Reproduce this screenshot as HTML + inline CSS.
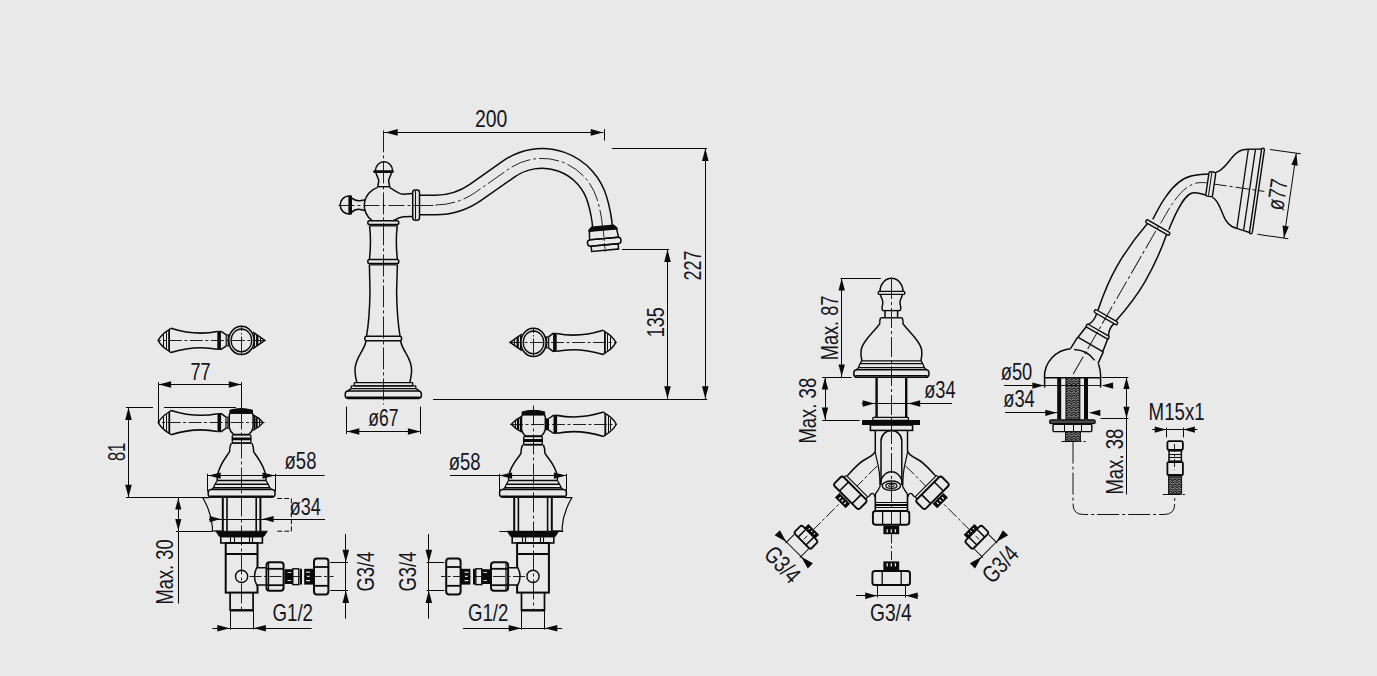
<!DOCTYPE html>
<html lang="en">
<head>
<meta charset="utf-8">
<title>Technical drawing - bath mixer dimensions</title>
<style>
html,body{margin:0;padding:0;background:#e9e9e9;}
body{width:1377px;height:676px;overflow:hidden;font-family:"Liberation Sans",sans-serif;}
svg{display:block;}
</style>
</head>
<body>
<svg width="1377" height="676" viewBox="0 0 1377 676" fill="none" stroke="#0a0a0a" stroke-linecap="butt" font-family="'Liberation Sans', sans-serif">
<defs><pattern id="hatch" width="4.4" height="2.4" patternUnits="userSpaceOnUse"><rect width="4.4" height="2.4" fill="#141414" stroke="none"/><path d="M0,0.3 L2.2,1.9 L4.4,0.3" stroke="#e2e2e2" stroke-width="0.75" fill="none"/></pattern></defs>
<g id="drawing">
<path d="M419.5,205 L435.3,205 A70,70 0 0 0 475.5,192.33 L509.1,168.8 A57.5,57.5 0 0 1 597.37,200.05 C599.85,208.7 601.9,217.8 602.5,226.8" fill="none" stroke="#0a0a0a" stroke-width="21.2"/>
<path d="M418,205 L435.3,205 A70,70 0 0 0 475.5,192.33 L509.1,168.8 A57.5,57.5 0 0 1 597.37,200.05 C599.85,208.7 601.9,217.8 602.6,228.5" fill="none" stroke="#e9e9e9" stroke-width="18.2"/>
<line x1="419.5" y1="205.5" x2="435.3" y2="205.5" stroke-width="0.9" stroke-dasharray="14 3 3 3"/>
<path d="M435.3,205 A70,70 0 0 0 475.5,192.33 L509.1,168.8 A57.5,57.5 0 0 1 597.37,200.05 C599.85,208.7 601.9,217.8 602.5,226.8" stroke-width="0.9" fill="none" stroke-dasharray="20 3 3 3"/>
<g transform="translate(602.7,227) rotate(-5.2)">
<path d="M-10.6,0 L-13.6,2.4 L-14.2,11.6 M10.6,0 L13.6,2.4 L14.8,11.6" stroke-width="1.5" fill="none"/>
<path d="M-11,-0.8 L11,-0.8 L14,2 L14,3.2 L-14,3.2 L-14,2 Z" stroke-width="1.2" fill="#0a0a0a"/>
<line x1="-14.4" y1="11.6" x2="15" y2="11.6" stroke-width="1.4"/>
<rect x="-16.6" y="11.6" width="33.6" height="6.4" rx="3" stroke-width="1.5" fill="none"/>
<rect x="-13.2" y="18" width="27" height="5.4" stroke-width="1.5" fill="none"/>
<line x1="0.3" y1="4" x2="0.3" y2="25" stroke-width="0.8" stroke-dasharray="6 2 2 2"/>
</g>
<path d="M375.4,171 A8.6,9.2 0 0 1 392.6,171" stroke-width="1.5" fill="none"/>
<rect x="373.2" y="170.2" width="20.6" height="2.8" rx="1.2" fill="#0a0a0a" stroke="none"/>
<path d="M376,173 C377,177 379.4,178.5 378.6,182 L377.6,187.4 M391.4,173 C390.4,177 388,178.5 388.8,182 L389.8,187.4" stroke-width="1.5" fill="none"/>
<line x1="377" y1="186.7" x2="390.2" y2="186.7" stroke-width="1.4"/>
<path d="M377.3,187.6 A18.1,18.5 0 0 0 372.4,220.8" stroke-width="1.5" fill="none"/>
<path d="M389.6,187.6 C394,189.5 397.5,193.6 403,194.2 L412.6,193.6" stroke-width="1.5" fill="none"/>
<path d="M412.6,216.6 L403.5,216.8 C399,217.2 396,219.3 393.4,220.8" stroke-width="1.5" fill="none"/>
<path d="M349,196 A8.8,9 0 0 0 349,214" stroke-width="1.5" fill="none"/>
<rect x="348.4" y="195.2" width="3.6" height="19.6" rx="1.2" fill="#0a0a0a" stroke="none"/>
<path d="M352,198 C354,200.4 357,200.9 360,200.7 L365.6,199.8 M352,212.2 C354,209.6 357,209.2 360,209.4 L365.6,210.4" stroke-width="1.5" fill="none"/>
<rect x="412.7" y="190" width="6.8" height="30.2" rx="2.4" stroke-width="1.5" fill="#e9e9e9"/>
<line x1="415.5" y1="191" x2="415.5" y2="219.2" stroke-width="1.1"/>
<line x1="338.5" y1="205.5" x2="419" y2="205.5" stroke-width="0.9" stroke-dasharray="16 3 3 3"/>
<rect x="367.8" y="220.8" width="31" height="3.8" rx="1.8" stroke-width="1.5" fill="none"/>
<line x1="369.4" y1="225.8" x2="397.4" y2="225.8" stroke-width="1.3"/>
<path d="M369.6,225.8 Q371.4,242 369.4,259.6 M397.2,225.8 Q395.4,242 397.4,259.6" stroke-width="1.5" fill="none"/>
<rect x="367.8" y="259.6" width="31" height="3.9" rx="1.8" stroke-width="1.5" fill="none"/>
<line x1="369.4" y1="264.8" x2="397.4" y2="264.8" stroke-width="1.2"/>
<path d="M369.4,264.8 L370,292 Q369.6,318 366.6,336 M397.4,264.8 L396.6,292 Q397,318 400,336" stroke-width="1.5" fill="none"/>
<rect x="364.8" y="336.2" width="36.8" height="4.6" rx="2" stroke-width="1.5" fill="none"/>
<path d="M366,341 C364,352 354.4,358 355,371 C355.2,376 356,379.5 356.9,382.7 M400.6,341 C402.6,352 412.2,358 411.6,371 C411.4,376 410.6,379.5 409.7,382.7" stroke-width="1.5" fill="none"/>
<rect x="354.2" y="382.7" width="58.6" height="3.1" rx="0.8" stroke-width="1.3" fill="none"/>
<rect x="351.2" y="385.8" width="64.6" height="2.9" rx="0.8" stroke-width="1.3" fill="none"/>
<path d="M351.4,388.7 Q349,389.4 347.6,391.2 M415.6,388.7 Q418,389.4 419.4,391.2" stroke-width="1.3" fill="none"/>
<rect x="345.2" y="391" width="76.2" height="7.4" rx="3.2" stroke-width="1.5" fill="none"/>
<line x1="347" y1="397.4" x2="419.6" y2="397.4" stroke-width="2"/>
<line x1="383.5" y1="130.4" x2="383.5" y2="404.5" stroke-width="0.9" stroke-dasharray="22 3 3 3"/>
<line x1="433" y1="399.5" x2="707.2" y2="399.5" stroke-width="1.1"/>
<line x1="383.4" y1="132.5" x2="603.5" y2="132.5" stroke-width="1"/>
<polygon points="385.2,132.4 397.7,129.1 397.7,135.7" fill="#0a0a0a" stroke="none"/>
<polygon points="603.2,132.4 590.7,135.7 590.7,129.1" fill="#0a0a0a" stroke="none"/>
<line x1="604.5" y1="129.2" x2="604.5" y2="140.6" stroke-width="1"/>
<text fill="#15151c" stroke="none" x="474.9" y="126.5" font-size="24.3" textLength="32.4" lengthAdjust="spacingAndGlyphs">200</text>
<line x1="612" y1="148.5" x2="707" y2="148.5" stroke-width="1"/>
<line x1="705.5" y1="148.3" x2="705.5" y2="399" stroke-width="1"/>
<polygon points="705.3,148.6 708.6,161.1 702,161.1" fill="#0a0a0a" stroke="none"/>
<polygon points="705.3,398.8 702,386.3 708.6,386.3" fill="#0a0a0a" stroke="none"/>
<text fill="#15151c" stroke="none" transform="translate(701.4,279.8) rotate(-90)" x="-0.8" y="0" font-size="24.3" textLength="30" lengthAdjust="spacingAndGlyphs">227</text>
<line x1="622" y1="249.5" x2="669.2" y2="249.5" stroke-width="1"/>
<line x1="667.5" y1="249.2" x2="667.5" y2="399" stroke-width="1"/>
<polygon points="667.5,249.5 670.8,262 664.2,262" fill="#0a0a0a" stroke="none"/>
<polygon points="667.5,398.8 664.2,386.3 670.8,386.3" fill="#0a0a0a" stroke="none"/>
<text fill="#15151c" stroke="none" transform="translate(664.2,336.4) rotate(-90)" x="-0.8" y="0" font-size="24.3" textLength="30" lengthAdjust="spacingAndGlyphs">135</text>
<line x1="346.5" y1="406.5" x2="346.5" y2="434" stroke-width="1"/>
<line x1="420.5" y1="406.5" x2="420.5" y2="434" stroke-width="1"/>
<line x1="346.6" y1="431.5" x2="420.6" y2="431.5" stroke-width="1"/>
<polygon points="346.8,431.5 359.3,428.2 359.3,434.8" fill="#0a0a0a" stroke="none"/>
<polygon points="420.4,431.5 407.9,434.8 407.9,428.2" fill="#0a0a0a" stroke="none"/>
<text fill="#15151c" stroke="none" x="368.2" y="425.8" font-size="24.3" textLength="30.2" lengthAdjust="spacingAndGlyphs">ø67</text>
<path d="M252.8,414.8 Q259.2,417.7 263.2,422.6 Q259.2,427.5 252.8,430.4" stroke-width="1.4" fill="none"/>
<line x1="254.5" y1="415.59" x2="254.5" y2="429.61" stroke-width="1.1"/>
<line x1="256.54" y1="417.31" x2="256.54" y2="427.89" stroke-width="2.3"/>
<line x1="259.5" y1="419.34" x2="259.5" y2="425.86" stroke-width="1"/>
<path d="M230,413.2 L229.3,415.2 L229.3,427.8 Q230.4,432.2 233.6,434.4 L248.8,434.4 Q252,432.2 253.1,427.8 L253.1,415.2 L252.4,413.2" stroke-width="1.5" fill="none"/>
<path d="M229.9,413.4 L229.9,410.2 Q241.2,407 252.5,410.2 L252.5,413.4 Z" stroke-width="1" fill="#0a0a0a"/>
<path d="M228.6,417 L225.8,417 M228.6,428.2 L225.8,428.2 M228,417 L228,428.2 M226,417 L226,428.2" stroke-width="1.2" fill="none"/>
<path d="M225.8,416.8 L220.9,413.4 M225.8,428.4 L220.9,431.8" stroke-width="1.5" fill="none"/>
<rect x="217.5" y="413" width="3.6" height="19.2" fill="#0a0a0a" stroke="none"/>
<path d="M217.5,413.7 C203.7,416.4 188.7,416 171.1,410.4" stroke-width="1.6" fill="none"/>
<path d="M217.5,431.5 C203.7,428.8 188.7,429.2 171.1,434.8" stroke-width="1.6" fill="none"/>
<path d="M171.1,410.4 L169.1,412 Q161.5,416.4 158.3,422.6 Q161.5,428.8 169.1,433.2 L171.1,434.8" stroke-width="1.4" fill="none" stroke-linejoin="round"/>
<line x1="169.3" y1="411.8" x2="169.3" y2="433.4" stroke-width="1.8"/>
<line x1="166.5" y1="414.4" x2="166.5" y2="430.8" stroke-width="1"/>
<line x1="163.5" y1="416.7" x2="163.5" y2="428.5" stroke-width="1"/>
<line x1="264.6" y1="422.5" x2="157.6" y2="422.5" stroke-width="0.9" stroke-dasharray="13 2.5 3 2.5"/>
<rect x="232.3" y="434.8" width="18.6" height="8" rx="1" stroke-width="1.3" fill="none"/>
<rect x="231.8" y="437.4" width="19.6" height="2.8" rx="1" fill="#0a0a0a" stroke="none"/>
<path d="M231.2,443.2 C229.9,446.2 229.5,449.2 229.7,451.4 C227.1,456.2 219.1,464.2 217.3,476.2 L217.2,480.5" stroke-width="1.5" fill="none"/>
<path d="M252,443.2 C253.3,446.2 253.7,449.2 253.5,451.4 C256.1,456.2 264.1,464.2 265.9,476.2 L266,480.5" stroke-width="1.5" fill="none"/>
<line x1="231.4" y1="443.2" x2="251.8" y2="443.2" stroke-width="1.3"/>
<path d="M217.2,480.5 L266,480.5 M215,484.2 L268.2,484.2 M213.4,487.8 L269.8,487.8" stroke-width="1.4" fill="none"/>
<path d="M217.2,480.5 L215,484.2 L213.4,487.8 L211.6,489.6" stroke-width="1.3" fill="none"/>
<path d="M266,480.5 L268.2,484.2 L269.8,487.8 L271.6,489.6" stroke-width="1.3" fill="none"/>
<rect x="208.2" y="489.4" width="66.8" height="7.6" rx="3" stroke-width="1.5" fill="none"/>
<line x1="210" y1="496.6" x2="273.2" y2="496.6" stroke-width="2.2"/>
<line x1="222.8" y1="497.6" x2="222.8" y2="531.6" stroke-width="2"/>
<line x1="227" y1="497.6" x2="227" y2="531.6" stroke-width="1.6"/>
<line x1="260.4" y1="497.6" x2="260.4" y2="531.6" stroke-width="2"/>
<line x1="256.2" y1="497.6" x2="256.2" y2="531.6" stroke-width="1.6"/>
<path d="M215.8,531.2 L267.4,531.2 L263.8,536.6 L219.4,536.6 Z" stroke-width="0.8" fill="#0a0a0a"/>
<rect x="220.8" y="536.6" width="41.6" height="6.4" stroke-width="1.6" fill="none"/>
<line x1="230.5" y1="536.6" x2="230.5" y2="543" stroke-width="1.1"/>
<line x1="234.5" y1="536.6" x2="234.5" y2="543" stroke-width="1.1"/>
<line x1="249.5" y1="536.6" x2="249.5" y2="543" stroke-width="1.1"/>
<line x1="252.5" y1="536.6" x2="252.5" y2="543" stroke-width="1.1"/>
<rect x="225.7" y="543" width="31.8" height="49.6" stroke-width="2" fill="none"/>
<line x1="225.7" y1="554" x2="257.5" y2="554" stroke-width="2"/>
<ellipse cx="241.6" cy="576.4" rx="6.1" ry="6.1" stroke-width="1.4" fill="none"/>
<path d="M230.1,592.6 L230.1,610.2 L253.1,610.2 L253.1,592.6" stroke-width="1.7" fill="none"/>
<line x1="230.1" y1="610.4" x2="253.1" y2="610.4" stroke-width="2.2"/>
<line x1="230.5" y1="610" x2="230.5" y2="629.6" stroke-width="1"/>
<line x1="253.5" y1="610" x2="253.5" y2="629.6" stroke-width="1"/>
<line x1="241.5" y1="409.5" x2="241.5" y2="611" stroke-width="0.9" stroke-dasharray="20 3 3 3"/>
<path d="M265.8,567.7 L256.8,567.7 Q252.2,576.4 256.8,585.1 L265.8,585.1" stroke-width="1.5" fill="#e9e9e9"/>
<rect x="266.5" y="562.3" width="17.1" height="28.4" rx="3" stroke-width="2" fill="#e9e9e9"/>
<line x1="266.5" y1="568.8" x2="283.6" y2="568.8" stroke-width="1.8"/>
<line x1="266.5" y1="585.2" x2="283.6" y2="585.2" stroke-width="1.8"/>
<line x1="268.6" y1="563" x2="268.6" y2="590" stroke-width="1.2"/>
<rect x="284.6" y="569.2" width="8.2" height="14.8" fill="#0a0a0a" stroke="none"/>
<line x1="287.6" y1="572.5" x2="291.2" y2="572.5" stroke-width="0.9" stroke="#e9e9e9"/>
<line x1="287.6" y1="580.5" x2="291.2" y2="580.5" stroke-width="0.9" stroke="#e9e9e9"/>
<rect x="292.8" y="568.8" width="6" height="15.8" stroke-width="1.4" fill="none"/>
<line x1="300.5" y1="568.8" x2="300.5" y2="584.6" stroke-width="1"/>
<line x1="301.5" y1="568.8" x2="301.5" y2="584.6" stroke-width="1"/>
<rect x="304.2" y="568.8" width="9.4" height="15.8" fill="#0a0a0a" stroke="none"/>
<line x1="306.2" y1="572.2" x2="310" y2="572.2" stroke-width="1.2" stroke="#e9e9e9"/>
<line x1="306.2" y1="576.4" x2="310" y2="576.4" stroke-width="1.2" stroke="#e9e9e9"/>
<line x1="306.2" y1="580.6" x2="310" y2="580.6" stroke-width="1.2" stroke="#e9e9e9"/>
<rect x="314" y="558.4" width="14.4" height="36.2" rx="3" stroke-width="2" fill="#e9e9e9"/>
<line x1="314" y1="567" x2="328.4" y2="567" stroke-width="1.8"/>
<line x1="314" y1="585.8" x2="328.4" y2="585.8" stroke-width="1.8"/>
<line x1="249.6" y1="576.5" x2="333.6" y2="576.5" stroke-width="0.9" stroke-dasharray="12 2.5 3 2.5"/>
<line x1="330.2" y1="562.5" x2="348" y2="562.5" stroke-width="1"/>
<line x1="330.2" y1="590.5" x2="348" y2="590.5" stroke-width="1"/>
<line x1="345.5" y1="534" x2="345.5" y2="618.8" stroke-width="1"/>
<polygon points="345.8,562.2 342.5,549.7 349.1,549.7" fill="#0a0a0a" stroke="none"/>
<polygon points="345.8,590.6 349.1,603.1 342.5,603.1" fill="#0a0a0a" stroke="none"/>
<line x1="207.5" y1="473.8" x2="207.5" y2="491.5" stroke-width="1"/>
<line x1="275.5" y1="473.8" x2="275.5" y2="491.5" stroke-width="1"/>
<line x1="207.7" y1="475.5" x2="275.5" y2="475.5" stroke-width="1"/>
<line x1="241.6" y1="475.5" x2="324.6" y2="475.5" stroke-width="1"/>
<polygon points="208.2,475.6 220.7,472.5 220.7,478.7" fill="#0a0a0a" stroke="none"/>
<polygon points="275,475.6 262.5,478.7 262.5,472.5" fill="#0a0a0a" stroke="none"/>
<line x1="212.4" y1="628.5" x2="311.6" y2="628.5" stroke-width="1"/>
<polygon points="229.8,628.2 217.3,631.5 217.3,624.9" fill="#0a0a0a" stroke="none"/>
<polygon points="253.4,628.2 265.9,624.9 265.9,631.5" fill="#0a0a0a" stroke="none"/>
<path d="M209.6,497.7 L202.8,497.7 C207.6,506 211.6,516 212.4,527 L212.4,531" stroke-width="1.2" fill="none"/>
<line x1="221.6" y1="531" x2="212.4" y2="531" stroke-width="1.2"/>
<path d="M521.8,416.5 Q515.4,419.4 511.4,424.3 Q515.4,429.2 521.8,432.1" stroke-width="1.4" fill="none"/>
<line x1="520.5" y1="417.29" x2="520.5" y2="431.31" stroke-width="1.1"/>
<line x1="518.06" y1="419.01" x2="518.06" y2="429.59" stroke-width="2.3"/>
<line x1="515.5" y1="421.04" x2="515.5" y2="427.56" stroke-width="1"/>
<path d="M522.2,414.9 L521.5,416.9 L521.5,429.5 Q522.6,433.9 525.8,436.1 L541,436.1 Q544.2,433.9 545.3,429.5 L545.3,416.9 L544.6,414.9" stroke-width="1.5" fill="none"/>
<path d="M522.1,415.1 L522.1,411.9 Q533.4,408.7 544.7,411.9 L544.7,415.1 Z" stroke-width="1" fill="#0a0a0a"/>
<rect x="545.4" y="418.3" width="3.6" height="12" fill="#0a0a0a" stroke="none"/>
<path d="M548.8,418.5 L553.7,415.1 M548.8,430.1 L553.7,433.5" stroke-width="1.5" fill="none"/>
<rect x="553.5" y="414.7" width="3.6" height="19.2" fill="#0a0a0a" stroke="none"/>
<path d="M557.1,415.4 C570.9,418.1 585.9,417.7 603.5,412.1" stroke-width="1.6" fill="none"/>
<path d="M557.1,433.2 C570.9,430.5 585.9,430.9 603.5,436.5" stroke-width="1.6" fill="none"/>
<path d="M603.5,412.1 L605.5,413.7 Q613.1,418.1 616.3,424.3 Q613.1,430.5 605.5,434.9 L603.5,436.5" stroke-width="1.4" fill="none" stroke-linejoin="round"/>
<line x1="605.3" y1="413.5" x2="605.3" y2="435.1" stroke-width="1.8"/>
<line x1="608.5" y1="416.1" x2="608.5" y2="432.5" stroke-width="1"/>
<line x1="610.5" y1="418.4" x2="610.5" y2="430.2" stroke-width="1"/>
<line x1="510" y1="424.5" x2="617" y2="424.5" stroke-width="0.9" stroke-dasharray="13 2.5 3 2.5"/>
<rect x="523.7" y="436.5" width="18.6" height="8" rx="1" stroke-width="1.3" fill="none"/>
<rect x="523.2" y="439.1" width="19.6" height="2.8" rx="1" fill="#0a0a0a" stroke="none"/>
<path d="M522.6,444.9 C521.3,447.9 520.9,450.9 521.1,453.1 C518.5,457.9 510.5,464.71 508.7,476.2 L508.6,480.5" stroke-width="1.5" fill="none"/>
<path d="M543.4,444.9 C544.7,447.9 545.1,450.9 544.9,453.1 C547.5,457.9 555.5,464.71 557.3,476.2 L557.4,480.5" stroke-width="1.5" fill="none"/>
<line x1="522.8" y1="444.9" x2="543.2" y2="444.9" stroke-width="1.3"/>
<path d="M508.6,480.5 L557.4,480.5 M506.4,484.2 L559.6,484.2 M504.8,487.8 L561.2,487.8" stroke-width="1.4" fill="none"/>
<path d="M508.6,480.5 L506.4,484.2 L504.8,487.8 L503,489.6" stroke-width="1.3" fill="none"/>
<path d="M557.4,480.5 L559.6,484.2 L561.2,487.8 L563,489.6" stroke-width="1.3" fill="none"/>
<rect x="499.6" y="489.4" width="66.8" height="7.6" rx="3" stroke-width="1.5" fill="none"/>
<line x1="501.4" y1="496.6" x2="564.6" y2="496.6" stroke-width="2.2"/>
<line x1="514.2" y1="497.6" x2="514.2" y2="531.6" stroke-width="2"/>
<line x1="518.4" y1="497.6" x2="518.4" y2="531.6" stroke-width="1.6"/>
<line x1="551.8" y1="497.6" x2="551.8" y2="531.6" stroke-width="2"/>
<line x1="547.6" y1="497.6" x2="547.6" y2="531.6" stroke-width="1.6"/>
<path d="M507.2,531.2 L558.8,531.2 L555.2,536.6 L510.8,536.6 Z" stroke-width="0.8" fill="#0a0a0a"/>
<rect x="512.2" y="536.6" width="41.6" height="6.4" stroke-width="1.6" fill="none"/>
<line x1="522.5" y1="536.6" x2="522.5" y2="543" stroke-width="1.1"/>
<line x1="525.5" y1="536.6" x2="525.5" y2="543" stroke-width="1.1"/>
<line x1="540.5" y1="536.6" x2="540.5" y2="543" stroke-width="1.1"/>
<line x1="543.5" y1="536.6" x2="543.5" y2="543" stroke-width="1.1"/>
<rect x="517.1" y="543" width="31.8" height="49.6" stroke-width="2" fill="none"/>
<line x1="517.1" y1="554" x2="548.9" y2="554" stroke-width="2"/>
<ellipse cx="533" cy="576.4" rx="6.1" ry="6.1" stroke-width="1.4" fill="none"/>
<path d="M521.5,592.6 L521.5,610.2 L544.5,610.2 L544.5,592.6" stroke-width="1.7" fill="none"/>
<line x1="521.5" y1="610.4" x2="544.5" y2="610.4" stroke-width="2.2"/>
<line x1="521.5" y1="610" x2="521.5" y2="629.6" stroke-width="1"/>
<line x1="544.5" y1="610" x2="544.5" y2="629.6" stroke-width="1"/>
<line x1="533.5" y1="405.51" x2="533.5" y2="611" stroke-width="0.9" stroke-dasharray="20 3 3 3"/>
<path d="M508.8,567.7 L517.8,567.7 Q522.4,576.4 517.8,585.1 L508.8,585.1" stroke-width="1.5" fill="#e9e9e9"/>
<rect x="491" y="562.3" width="17.1" height="28.4" rx="3" stroke-width="2" fill="#e9e9e9"/>
<line x1="508.1" y1="568.8" x2="491" y2="568.8" stroke-width="1.8"/>
<line x1="508.1" y1="585.2" x2="491" y2="585.2" stroke-width="1.8"/>
<line x1="506" y1="563" x2="506" y2="590" stroke-width="1.2"/>
<rect x="481.8" y="569.2" width="8.2" height="14.8" fill="#0a0a0a" stroke="none"/>
<line x1="487" y1="572.5" x2="483.4" y2="572.5" stroke-width="0.9" stroke="#e9e9e9"/>
<line x1="487" y1="580.5" x2="483.4" y2="580.5" stroke-width="0.9" stroke="#e9e9e9"/>
<rect x="475.8" y="568.8" width="6" height="15.8" stroke-width="1.4" fill="none"/>
<line x1="474.5" y1="568.8" x2="474.5" y2="584.6" stroke-width="1"/>
<line x1="473.5" y1="568.8" x2="473.5" y2="584.6" stroke-width="1"/>
<rect x="461" y="568.8" width="9.4" height="15.8" fill="#0a0a0a" stroke="none"/>
<line x1="468.4" y1="572.2" x2="464.6" y2="572.2" stroke-width="1.2" stroke="#e9e9e9"/>
<line x1="468.4" y1="576.4" x2="464.6" y2="576.4" stroke-width="1.2" stroke="#e9e9e9"/>
<line x1="468.4" y1="580.6" x2="464.6" y2="580.6" stroke-width="1.2" stroke="#e9e9e9"/>
<rect x="446.2" y="558.4" width="14.4" height="36.2" rx="3" stroke-width="2" fill="#e9e9e9"/>
<line x1="460.6" y1="567" x2="446.2" y2="567" stroke-width="1.8"/>
<line x1="460.6" y1="585.8" x2="446.2" y2="585.8" stroke-width="1.8"/>
<line x1="525" y1="576.5" x2="441" y2="576.5" stroke-width="0.9" stroke-dasharray="12 2.5 3 2.5"/>
<line x1="444.4" y1="562.5" x2="426.6" y2="562.5" stroke-width="1"/>
<line x1="444.4" y1="590.5" x2="426.6" y2="590.5" stroke-width="1"/>
<line x1="428.5" y1="534" x2="428.5" y2="618.8" stroke-width="1"/>
<polygon points="428.8,562.2 425.5,549.7 432.1,549.7" fill="#0a0a0a" stroke="none"/>
<polygon points="428.8,590.6 432.1,603.1 425.5,603.1" fill="#0a0a0a" stroke="none"/>
<line x1="499.5" y1="473.8" x2="499.5" y2="491.5" stroke-width="1"/>
<line x1="566.5" y1="473.8" x2="566.5" y2="491.5" stroke-width="1"/>
<line x1="499.1" y1="475.5" x2="566.9" y2="475.5" stroke-width="1"/>
<line x1="533" y1="475.5" x2="450" y2="475.5" stroke-width="1"/>
<polygon points="499.6,475.6 512.1,472.5 512.1,478.7" fill="#0a0a0a" stroke="none"/>
<polygon points="566.4,475.6 553.9,478.7 553.9,472.5" fill="#0a0a0a" stroke="none"/>
<line x1="562.2" y1="628.5" x2="463" y2="628.5" stroke-width="1"/>
<polygon points="521.2,628.2 508.7,631.5 508.7,624.9" fill="#0a0a0a" stroke="none"/>
<polygon points="544.8,628.2 557.3,624.9 557.3,631.5" fill="#0a0a0a" stroke="none"/>
<path d="M565,497.7 L571.8,497.7 C567,506 563,516 562.2,527 L562.2,531" stroke-width="1.2" fill="none"/>
<line x1="553" y1="531" x2="562.2" y2="531" stroke-width="1.2"/>
<line x1="499.4" y1="531.5" x2="563.3" y2="531.5" stroke-width="1.1"/>
<path d="M253,332.2 Q257.7,335.3 264.8,340.4 Q257.7,345.5 253,348.6" stroke-width="1.4" fill="none"/>
<line x1="254.5" y1="333.05" x2="254.5" y2="347.75" stroke-width="1.1"/>
<line x1="257.25" y1="334.85" x2="257.25" y2="345.95" stroke-width="2.3"/>
<line x1="260.5" y1="336.98" x2="260.5" y2="343.82" stroke-width="1"/>
<ellipse cx="241.4" cy="340.4" rx="12.7" ry="14.1" stroke-width="1.6" fill="#e9e9e9"/>
<ellipse cx="241.4" cy="340.4" rx="10.3" ry="11.4" stroke-width="1.3" fill="none"/>
<path d="M228.8,334.8 L226,334.8 M228.8,346 L226,346 M228.2,334.8 L228.2,346 M226.2,334.8 L226.2,346" stroke-width="1.2" fill="none"/>
<path d="M226,334.6 L220.7,331.2 M226,346.2 L220.7,349.6" stroke-width="1.5" fill="none"/>
<rect x="217.3" y="330.8" width="3.6" height="19.2" fill="#0a0a0a" stroke="none"/>
<path d="M217.3,331.5 C203.5,334.2 188.5,333.8 170.9,328.2" stroke-width="1.6" fill="none"/>
<path d="M217.3,349.3 C203.5,346.6 188.5,347 170.9,352.6" stroke-width="1.6" fill="none"/>
<path d="M170.9,328.2 L168.9,329.8 Q161.3,334.2 158.1,340.4 Q161.3,346.6 168.9,351 L170.9,352.6" stroke-width="1.4" fill="none" stroke-linejoin="round"/>
<line x1="169.1" y1="329.6" x2="169.1" y2="351.2" stroke-width="1.8"/>
<line x1="166.5" y1="332.2" x2="166.5" y2="348.6" stroke-width="1"/>
<line x1="163.5" y1="334.5" x2="163.5" y2="346.3" stroke-width="1"/>
<line x1="265.9" y1="340.5" x2="158.2" y2="340.5" stroke-width="0.9" stroke-dasharray="13 2.5 3 2.5"/>
<line x1="241.5" y1="327" x2="241.5" y2="353.8" stroke-width="0.9" stroke-dasharray="4 2 1.5 2 30"/>
<path d="M521.9,334.2 Q517.2,337.3 510.1,342.4 Q517.2,347.5 521.9,350.6" stroke-width="1.4" fill="none"/>
<line x1="520.5" y1="335.05" x2="520.5" y2="349.75" stroke-width="1.1"/>
<line x1="517.65" y1="336.85" x2="517.65" y2="347.95" stroke-width="2.3"/>
<line x1="514.5" y1="338.98" x2="514.5" y2="345.82" stroke-width="1"/>
<ellipse cx="533.5" cy="342.4" rx="12.7" ry="14.1" stroke-width="1.6" fill="#e9e9e9"/>
<ellipse cx="533.5" cy="342.4" rx="10.3" ry="11.4" stroke-width="1.3" fill="none"/>
<path d="M546.1,336.8 L548.9,336.8 M546.1,348 L548.9,348 M546.7,336.8 L546.7,348 M548.7,336.8 L548.7,348" stroke-width="1.2" fill="none"/>
<path d="M548.9,336.6 L553.3,333.2 M548.9,348.2 L553.3,351.6" stroke-width="1.5" fill="none"/>
<rect x="553.1" y="332.8" width="3.6" height="19.2" fill="#0a0a0a" stroke="none"/>
<path d="M556.7,333.5 C570.5,336.2 585.5,335.8 603.1,330.2" stroke-width="1.6" fill="none"/>
<path d="M556.7,351.3 C570.5,348.6 585.5,349 603.1,354.6" stroke-width="1.6" fill="none"/>
<path d="M603.1,330.2 L605.1,331.8 Q612.7,336.2 615.9,342.4 Q612.7,348.6 605.1,353 L603.1,354.6" stroke-width="1.4" fill="none" stroke-linejoin="round"/>
<line x1="604.9" y1="331.6" x2="604.9" y2="353.2" stroke-width="1.8"/>
<line x1="607.5" y1="334.2" x2="607.5" y2="350.6" stroke-width="1"/>
<line x1="610.5" y1="336.5" x2="610.5" y2="348.3" stroke-width="1"/>
<line x1="509" y1="342.5" x2="616.7" y2="342.5" stroke-width="0.9" stroke-dasharray="13 2.5 3 2.5"/>
<line x1="533.5" y1="329" x2="533.5" y2="355.8" stroke-width="0.9" stroke-dasharray="4 2 1.5 2 30"/>
<line x1="158.5" y1="382.2" x2="158.5" y2="422.8" stroke-width="1"/>
<line x1="241.5" y1="382.2" x2="241.5" y2="409" stroke-width="1"/>
<line x1="158.3" y1="384.5" x2="241.6" y2="384.5" stroke-width="1"/>
<polygon points="158.6,384.5 171.1,381.2 171.1,387.8" fill="#0a0a0a" stroke="none"/>
<polygon points="241.3,384.5 228.8,387.8 228.8,381.2" fill="#0a0a0a" stroke="none"/>
<text fill="#15151c" stroke="none" x="190.4" y="380.4" font-size="24.3" textLength="20.2" lengthAdjust="spacingAndGlyphs">77</text>
<line x1="125.9" y1="407.5" x2="153" y2="407.5" stroke-width="1"/>
<line x1="164" y1="407.5" x2="236" y2="407.5" stroke-width="1"/>
<line x1="128.5" y1="407.3" x2="128.5" y2="497.6" stroke-width="1"/>
<polygon points="128.5,407.6 131.8,420.1 125.2,420.1" fill="#0a0a0a" stroke="none"/>
<polygon points="128.5,497.3 125.2,484.8 131.8,484.8" fill="#0a0a0a" stroke="none"/>
<line x1="125.9" y1="497.5" x2="208.5" y2="497.5" stroke-width="1.1"/>
<text fill="#15151c" stroke="none" transform="translate(125.4,460.3) rotate(-90)" x="-0.8" y="0" font-size="24.3" textLength="18.4" lengthAdjust="spacingAndGlyphs">81</text>
<line x1="178.5" y1="497.6" x2="178.5" y2="603.5" stroke-width="1"/>
<polygon points="178.3,498 181.4,509.5 175.2,509.5" fill="#0a0a0a" stroke="none"/>
<polygon points="178.3,530.6 175.2,519.1 181.4,519.1" fill="#0a0a0a" stroke="none"/>
<line x1="176" y1="531.5" x2="212.5" y2="531.5" stroke-width="1"/>
<text fill="#15151c" stroke="none" transform="translate(173.2,603.6) rotate(-90)" x="-0.8" y="0" font-size="24.3" textLength="65" lengthAdjust="spacingAndGlyphs">Max. 30</text>
<line x1="209" y1="519.5" x2="325" y2="519.5" stroke-width="1"/>
<polygon points="220.6,519.1 209.6,522.2 209.6,516" fill="#0a0a0a" stroke="none"/>
<polygon points="262.6,519.1 273.6,516 273.6,522.2" fill="#0a0a0a" stroke="none"/>
<path d="M277.2,498.5 L291.4,498.5 L291.4,531.2 L277.2,531.2" stroke-width="1" fill="none" stroke-dasharray="5 2"/>
<text fill="#15151c" stroke="none" x="284.6" y="469.4" font-size="24.3" textLength="31.8" lengthAdjust="spacingAndGlyphs">ø58</text>
<text fill="#15151c" stroke="none" x="289.8" y="515.2" font-size="24.3" textLength="31" lengthAdjust="spacingAndGlyphs">ø34</text>
<text fill="#15151c" stroke="none" x="272.6" y="621" font-size="24.3" textLength="40.4" lengthAdjust="spacingAndGlyphs">G1/2</text>
<text fill="#15151c" stroke="none" transform="translate(374.2,590.8) rotate(-90)" x="-0.8" y="0" font-size="24.3" textLength="39.8" lengthAdjust="spacingAndGlyphs">G3/4</text>
<text fill="#15151c" stroke="none" x="448.8" y="469.6" font-size="24.3" textLength="31.8" lengthAdjust="spacingAndGlyphs">ø58</text>
<text fill="#15151c" stroke="none" x="468" y="620.8" font-size="24.3" textLength="40.4" lengthAdjust="spacingAndGlyphs">G1/2</text>
<text fill="#15151c" stroke="none" transform="translate(416,590.8) rotate(-90)" x="-0.8" y="0" font-size="24.3" textLength="39.8" lengthAdjust="spacingAndGlyphs">G3/4</text>
<path d="M880,291.4 A11.5,13.1 0 0 1 903,291.4" stroke-width="1.5" fill="none"/>
<rect x="878.2" y="291.4" width="26.6" height="3" rx="1.2" stroke-width="1.4" fill="none"/>
<path d="M880.4,294.6 C881,298 883.6,300.5 882.8,303.6 C882.4,305.6 881.4,307.6 882.4,310.4 M902.4,294.6 C901.8,298 899.2,300.5 900,303.6 C900.4,305.6 901.4,307.6 900.4,310.4" stroke-width="1.5" fill="none"/>
<line x1="882.4" y1="310.6" x2="900.4" y2="310.6" stroke-width="1.4"/>
<path d="M885,310.6 L885,317.6 M897.6,310.6 L897.6,317.6" stroke-width="1.5" fill="none"/>
<path d="M880.6,317.8 Q879.5,320 879.8,323.6 C876.4,329.5 862.9,340 861.2,349.5 C860.5,353.5 861.1,357.5 861.9,360.9" stroke-width="1.5" fill="none"/>
<path d="M902.2,317.8 Q903.3,320 903,323.6 C906.4,329.5 919.9,340 921.6,349.5 C922.3,353.5 921.7,357.5 920.9,360.9" stroke-width="1.5" fill="none"/>
<line x1="880.6" y1="317.8" x2="902.2" y2="317.8" stroke-width="1.4"/>
<path d="M861.6,360.9 L921.2,360.9 M860.2,363.6 L922.6,363.6 M858.4,367.6 L924.4,367.6" stroke-width="1.4" fill="none"/>
<path d="M861.6,360.9 L860.2,363.6 L858.4,367.6 L856.4,369.8" stroke-width="1.3" fill="none"/>
<path d="M921.2,360.9 L922.6,363.6 L924.4,367.6 L926.4,369.8" stroke-width="1.3" fill="none"/>
<rect x="853.8" y="369.7" width="75.2" height="7.5" rx="3.2" stroke-width="1.5" fill="none"/>
<line x1="855.4" y1="375.5" x2="927.4" y2="375.5" stroke-width="1.1"/>
<line x1="855" y1="377.3" x2="927.8" y2="377.3" stroke-width="1.6"/>
<line x1="876.6" y1="377.6" x2="876.6" y2="418" stroke-width="2.4"/>
<line x1="906.2" y1="377.6" x2="906.2" y2="418" stroke-width="2.4"/>
<rect x="872.8" y="417.4" width="35.6" height="3" rx="0.8" stroke-width="1.2" fill="none"/>
<rect x="862" y="420" width="58" height="5" fill="#0a0a0a" stroke="none"/>
<rect x="870.4" y="425" width="42.2" height="5.4" stroke-width="1.6" fill="none"/>
<path d="M875.3,430.4 L875.3,450.5 C875.3,455 868,457.5 862.5,461 C858,464 853,469.5 847.2,475.8" stroke-width="1.5" fill="none"/>
<path d="M907.5,430.4 L907.5,450.5 C907.5,455 914.8,457.5 920.3,461 C924.8,464 929.8,469.5 935.6,475.8" stroke-width="1.5" fill="none"/>
<path d="M875.3,452 C876.2,459 879,466 879.6,476 L880.1,485.6 M907.5,452 C906.6,459 903.8,466 903.2,476 L902.7,485.6" stroke-width="1.2" fill="none"/>
<path d="M881,485 L881,441 A10.4,10.4 0 0 1 901.8,441 L901.8,485" stroke-width="1.5" fill="none"/>
<path d="M880.2,485.4 A11.2,13.6 0 0 1 902.6,485.4" stroke-width="1.4" fill="none"/>
<ellipse cx="891.4" cy="485.7" rx="9.2" ry="4.7" stroke-width="1.4" fill="none"/>
<ellipse cx="891.4" cy="485.8" rx="5.6" ry="2.7" stroke-width="1.2" fill="none"/>
<ellipse cx="891.4" cy="485.8" rx="3.2" ry="1.2" stroke-width="1" fill="none"/>
<path d="M880.3,486 Q878,491 875.3,494 M902.5,486 Q904.8,491 907.5,494" stroke-width="1.3" fill="none"/>
<path d="M868.3,497.2 L870.8,494 Q872.6,492.4 874,494.4 L875.3,497.4 M914.5,497.2 L912,494 Q910.2,492.4 908.8,494.4 L907.5,497.4" stroke-width="1.3" fill="none"/>
<path d="M875.3,494 L875.3,510.2 M907.5,494 L907.5,510.2" stroke-width="1.6" fill="none"/>
<line x1="875.3" y1="502.5" x2="907.5" y2="502.5" stroke-width="1.1"/>
<line x1="875.3" y1="505" x2="907.5" y2="505" stroke-width="2"/>
<line x1="875.3" y1="507.5" x2="907.5" y2="507.5" stroke-width="1.1"/>
<rect x="872.9" y="511" width="36.4" height="13.7" rx="2.6" stroke-width="1.9" fill="#e9e9e9"/>
<line x1="882.6" y1="511" x2="882.6" y2="525" stroke-width="1.3"/>
<line x1="900.4" y1="511" x2="900.4" y2="525" stroke-width="1.3"/>
<rect x="883.4" y="525.6" width="15.8" height="8.6" fill="#0a0a0a" stroke="none"/>
<line x1="887.2" y1="529.2" x2="887.2" y2="532.4" stroke-width="1.3" stroke="#e9e9e9"/>
<line x1="891.3" y1="529.2" x2="891.3" y2="532.4" stroke-width="1.3" stroke="#e9e9e9"/>
<line x1="895.4" y1="529.2" x2="895.4" y2="532.4" stroke-width="1.3" stroke="#e9e9e9"/>
<line x1="891.5" y1="534.5" x2="891.5" y2="561" stroke-width="0.9" stroke-dasharray="9 2.5 2.5 2.5"/>
<rect x="883.4" y="561.4" width="15.8" height="8.8" fill="#0a0a0a" stroke="none"/>
<line x1="887.2" y1="563.2" x2="887.2" y2="566.4" stroke-width="1.3" stroke="#e9e9e9"/>
<line x1="891.3" y1="563.2" x2="891.3" y2="566.4" stroke-width="1.3" stroke="#e9e9e9"/>
<line x1="895.4" y1="563.2" x2="895.4" y2="566.4" stroke-width="1.3" stroke="#e9e9e9"/>
<rect x="872.4" y="571" width="37.6" height="14" rx="2.6" stroke-width="1.9" fill="#e9e9e9"/>
<line x1="882.2" y1="571" x2="882.2" y2="585" stroke-width="1.3"/>
<line x1="901.2" y1="571" x2="901.2" y2="585" stroke-width="1.3"/>
<line x1="877.5" y1="586" x2="877.5" y2="597.6" stroke-width="1"/>
<line x1="905.5" y1="586" x2="905.5" y2="597.6" stroke-width="1"/>
<line x1="856" y1="595.5" x2="918.4" y2="595.5" stroke-width="1"/>
<polygon points="877.2,595.8 865.2,599 865.2,592.6" fill="#0a0a0a" stroke="none"/>
<polygon points="905.7,595.8 917.7,592.6 917.7,599" fill="#0a0a0a" stroke="none"/>
<text fill="#15151c" stroke="none" x="870" y="621.2" font-size="24.3" textLength="41.6" lengthAdjust="spacingAndGlyphs">G3/4</text>
<line x1="891.5" y1="279" x2="891.5" y2="526" stroke-width="0.9" stroke-dasharray="20 3 3 3"/>
<g transform="translate(850.3,492.8) rotate(135)">
<line x1="-38" y1="0" x2="52" y2="0" stroke-width="0.9" stroke-dasharray="12 2.5 3 2.5"/>
<rect x="-9.4" y="-15.3" width="3" height="30.6" rx="0.8" stroke-width="1.2" fill="#e9e9e9"/>
<rect x="-6.4" y="-17.9" width="12.8" height="35.8" rx="2.6" stroke-width="1.9" fill="#e9e9e9"/>
<line x1="-6.4" y1="-8.95" x2="6.4" y2="-8.95" stroke-width="1.6"/>
<line x1="-6.4" y1="8.95" x2="6.4" y2="8.95" stroke-width="1.6"/>
<rect x="8.4" y="-7" width="5.2" height="14" stroke-width="1.2" fill="#0a0a0a"/>
<line x1="9.8" y1="-3.6" x2="12.4" y2="-3.6" stroke-width="1.3" stroke="#e9e9e9"/>
<line x1="9.8" y1="0" x2="12.4" y2="0" stroke-width="1.3" stroke="#e9e9e9"/>
<line x1="9.8" y1="3.6" x2="12.4" y2="3.6" stroke-width="1.3" stroke="#e9e9e9"/>
<g transform="translate(62.9,0)">
<rect x="-10.6" y="-7" width="4.2" height="14" stroke-width="1.2" fill="#0a0a0a"/>
<line x1="-9.4" y1="-3.6" x2="-7.6" y2="-3.6" stroke-width="1.1" stroke="#e9e9e9"/>
<line x1="-9.4" y1="0" x2="-7.6" y2="0" stroke-width="1.1" stroke="#e9e9e9"/>
<line x1="-9.4" y1="3.6" x2="-7.6" y2="3.6" stroke-width="1.1" stroke="#e9e9e9"/>
<rect x="-5.8" y="-11.8" width="11.2" height="23.6" rx="2.4" stroke-width="1.8" fill="#e9e9e9"/>
<line x1="-5.8" y1="-5.6" x2="5.4" y2="-5.6" stroke-width="1.5"/>
<line x1="-5.8" y1="5.6" x2="5.4" y2="5.6" stroke-width="1.5"/>
<line x1="-2" y1="0" x2="3" y2="0" stroke-width="0.9"/>
<line x1="6.4" y1="-10.2" x2="18.6" y2="-10.2" stroke-width="1"/>
<line x1="6.4" y1="10.2" x2="18.6" y2="10.2" stroke-width="1"/>
<line x1="17" y1="-22" x2="17" y2="22" stroke-width="1"/>
<polygon points="17,-10.4 13.3,-23.4 20.7,-23.4" fill="#0a0a0a" stroke="none"/>
<polygon points="17,10.4 20.7,23.4 13.3,23.4" fill="#0a0a0a" stroke="none"/>
</g>
</g>
<g transform="translate(932.5,492.8) rotate(45)">
<line x1="-38" y1="0" x2="52" y2="0" stroke-width="0.9" stroke-dasharray="12 2.5 3 2.5"/>
<rect x="-9.4" y="-15.3" width="3" height="30.6" rx="0.8" stroke-width="1.2" fill="#e9e9e9"/>
<rect x="-6.4" y="-17.9" width="12.8" height="35.8" rx="2.6" stroke-width="1.9" fill="#e9e9e9"/>
<line x1="-6.4" y1="-8.95" x2="6.4" y2="-8.95" stroke-width="1.6"/>
<line x1="-6.4" y1="8.95" x2="6.4" y2="8.95" stroke-width="1.6"/>
<rect x="8.4" y="-7" width="5.2" height="14" stroke-width="1.2" fill="#0a0a0a"/>
<line x1="9.8" y1="-3.6" x2="12.4" y2="-3.6" stroke-width="1.3" stroke="#e9e9e9"/>
<line x1="9.8" y1="0" x2="12.4" y2="0" stroke-width="1.3" stroke="#e9e9e9"/>
<line x1="9.8" y1="3.6" x2="12.4" y2="3.6" stroke-width="1.3" stroke="#e9e9e9"/>
<g transform="translate(62.9,0)">
<rect x="-10.6" y="-7" width="4.2" height="14" stroke-width="1.2" fill="#0a0a0a"/>
<line x1="-9.4" y1="-3.6" x2="-7.6" y2="-3.6" stroke-width="1.1" stroke="#e9e9e9"/>
<line x1="-9.4" y1="0" x2="-7.6" y2="0" stroke-width="1.1" stroke="#e9e9e9"/>
<line x1="-9.4" y1="3.6" x2="-7.6" y2="3.6" stroke-width="1.1" stroke="#e9e9e9"/>
<rect x="-5.8" y="-11.8" width="11.2" height="23.6" rx="2.4" stroke-width="1.8" fill="#e9e9e9"/>
<line x1="-5.8" y1="-5.6" x2="5.4" y2="-5.6" stroke-width="1.5"/>
<line x1="-5.8" y1="5.6" x2="5.4" y2="5.6" stroke-width="1.5"/>
<line x1="-2" y1="0" x2="3" y2="0" stroke-width="0.9"/>
<line x1="6.4" y1="-10.2" x2="18.6" y2="-10.2" stroke-width="1"/>
<line x1="6.4" y1="10.2" x2="18.6" y2="10.2" stroke-width="1"/>
<line x1="17" y1="-22" x2="17" y2="22" stroke-width="1"/>
<polygon points="17,-10.4 13.3,-23.4 20.7,-23.4" fill="#0a0a0a" stroke="none"/>
<polygon points="17,10.4 20.7,23.4 13.3,23.4" fill="#0a0a0a" stroke="none"/>
</g>
</g>
<g transform="translate(782.4,564.6) rotate(47)">
<text fill="#15151c" stroke="none" x="-20.2" y="8.2" font-size="24.3" textLength="40.4" lengthAdjust="spacingAndGlyphs">G3/4</text>
</g>
<g transform="translate(1000.2,564.4) rotate(-47)">
<text fill="#15151c" stroke="none" x="-20.2" y="8.2" font-size="24.3" textLength="40.4" lengthAdjust="spacingAndGlyphs">G3/4</text>
</g>
<line x1="840.5" y1="278.5" x2="880.8" y2="278.5" stroke-width="1"/>
<line x1="841.5" y1="278.3" x2="841.5" y2="377" stroke-width="1"/>
<polygon points="841.7,278.6 844.9,290.6 838.5,290.6" fill="#0a0a0a" stroke="none"/>
<polygon points="841.7,376.6 838.5,364.6 844.9,364.6" fill="#0a0a0a" stroke="none"/>
<line x1="822.2" y1="377.5" x2="851.6" y2="377.5" stroke-width="1"/>
<text fill="#15151c" stroke="none" transform="translate(837.8,359.4) rotate(-90)" x="-0.8" y="0" font-size="24.3" textLength="64.6" lengthAdjust="spacingAndGlyphs">Max. 87</text>
<line x1="825.5" y1="377.2" x2="825.5" y2="420" stroke-width="1"/>
<polygon points="825,377.6 828.2,389.6 821.8,389.6" fill="#0a0a0a" stroke="none"/>
<polygon points="825,419.6 821.8,407.6 828.2,407.6" fill="#0a0a0a" stroke="none"/>
<line x1="822.2" y1="420.5" x2="859.6" y2="420.5" stroke-width="1"/>
<text fill="#15151c" stroke="none" transform="translate(816.4,442.8) rotate(-90)" x="-0.8" y="0" font-size="24.3" textLength="65.8" lengthAdjust="spacingAndGlyphs">Max. 38</text>
<line x1="861.8" y1="403.5" x2="952" y2="403.5" stroke-width="1"/>
<polygon points="874.6,403.5 862.6,406.7 862.6,400.3" fill="#0a0a0a" stroke="none"/>
<polygon points="908.2,403.5 920.2,400.3 920.2,406.7" fill="#0a0a0a" stroke="none"/>
<text fill="#15151c" stroke="none" x="924.2" y="398.3" font-size="24.3" textLength="31.4" lengthAdjust="spacingAndGlyphs">ø34</text>
<path d="M1044.4,377.7 A28.5,28.5 0 0 1 1070.5,348.8" stroke-width="1.5" fill="none"/>
<path d="M1098.6,364 Q1100.6,370 1100.8,377.7" stroke-width="1.5" fill="none"/>
<line x1="1044.4" y1="377.7" x2="1100.8" y2="377.7" stroke-width="1.4"/>
<line x1="1044.6" y1="377.7" x2="1044.6" y2="387.6" stroke-width="1.5"/>
<line x1="1100.6" y1="377.7" x2="1100.6" y2="387.6" stroke-width="1.5"/>
<g transform="translate(1097.7,331.6) rotate(30)">
<path d="M-12.4,1.5 L-14.2,14.8 M12.4,1.5 L14.4,14.8" stroke-width="1.5" fill="none"/>
<line x1="-14.4" y1="14.8" x2="14.8" y2="14.8" stroke-width="1.4"/>
<path d="M-14.6,14.8 L-15,28.4 M15,14.8 L16.2,27.6" stroke-width="1.5" fill="none"/>
<path d="M-11.5,27.3 Q0,21.2 11.8,26.4" stroke-width="1.3" fill="none"/>
<rect x="-12.9" y="-1.6" width="25.8" height="3.2" rx="1.5" stroke-width="1.4" fill="#e9e9e9"/>
<path d="M-11.6,-1.6 C-9,-6 -8.6,-10 -10,-15 M11.6,-1.6 C9,-6 8.6,-10 10,-15" stroke-width="1.5" fill="none"/>
<rect x="-13.2" y="-18.2" width="26.4" height="3.2" rx="1.5" stroke-width="1.4" fill="#e9e9e9"/>
<path d="M-10.4,-18.2 C-13.6,-34 -16,-50 -16,-67 C-16,-90 -13.6,-105 -11,-118.6 M10.4,-18.2 C13.6,-34 16,-50 16,-67 C16,-90 13.6,-105 11,-118.6" stroke-width="1.5" fill="none"/>
<rect x="-13.6" y="-121.8" width="27.2" height="3.2" rx="1.5" stroke-width="1.4" fill="#e9e9e9"/>
<line x1="0" y1="49" x2="0" y2="-124" stroke-width="0.9" stroke-dasharray="20 3 3 3"/>
</g>
<path d="M1152.8,219.4 C1158,209 1162,202 1165.5,197.1 C1172,187.5 1180,178.5 1192.1,175.8 C1198,174.5 1203,173.8 1209.4,173.9" stroke-width="1.5" fill="none"/>
<path d="M1168.8,229.8 C1172,222 1175,215 1177.9,209.6 C1182,202 1186,195 1192,193 C1197,191.5 1202,194 1207.4,195.6" stroke-width="1.5" fill="none"/>
<path d="M1160.6,223.4 C1166,214 1170,207 1172.6,203.6 C1179,194 1186,186 1195.7,183.2 C1200,182.2 1205,182.6 1208.5,183" stroke-width="0.9" fill="none" stroke-dasharray="18 3 3 3"/>
<g transform="translate(1210.75,184.2) rotate(8.3)">
<line x1="2" y1="-0.6" x2="54" y2="-0.6" stroke-width="0.9" stroke-dasharray="14 3 3 3"/>
<rect x="-3.4" y="-12.3" width="6.8" height="24.6" rx="1.6" stroke-width="1.4" fill="#e9e9e9"/>
<line x1="-0.6" y1="-11.6" x2="-0.6" y2="11.6" stroke-width="1"/>
<path d="M3.4,-12.6 C8,-14 11,-19 14,-24 C18,-31 21,-36.6 27,-38.8 L32.2,-40 M3.4,12.6 C8,14 11,19 14,24 C18,31 21,36.6 27,38.8 L32.2,40" stroke-width="1.5" fill="none"/>
<line x1="32.2" y1="-40" x2="32.2" y2="40" stroke-width="1.3"/>
<line x1="39.2" y1="-41.2" x2="39.2" y2="41.2" stroke-width="1.3"/>
<path d="M32.2,-40 L39.2,-41.2 L45.4,-42.2 M32.2,40 L39.2,41.2 L45.4,42.2" stroke-width="1.4" fill="none"/>
<rect x="45.3" y="-43.2" width="2.8" height="86.4" rx="1.4" stroke-width="1.4" fill="#e9e9e9"/>
<line x1="53.5" y1="-43" x2="84.6" y2="-43" stroke-width="1"/>
<line x1="53.5" y1="42.8" x2="84.6" y2="42.8" stroke-width="1"/>
<line x1="80.2" y1="-43" x2="80.2" y2="42.8" stroke-width="1"/>
<polygon points="80.2,-42.8 83.4,-30.8 77,-30.8" fill="#0a0a0a" stroke="none"/>
<polygon points="80.2,42.6 77,30.6 83.4,30.6" fill="#0a0a0a" stroke="none"/>
<text fill="#15151c" stroke="none" transform="translate(75.6,15.2) rotate(-90)" x="-0.8" y="0" font-size="24.3" textLength="31" lengthAdjust="spacingAndGlyphs">ø77</text>
</g>
<rect x="1057.2" y="377.7" width="4" height="41.6" fill="#0a0a0a" stroke="none"/>
<rect x="1084" y="377.7" width="4" height="41.6" fill="#0a0a0a" stroke="none"/>
<rect x="1066" y="377.7" width="13.8" height="41.6" fill="url(#hatch)" stroke="#0a0a0a" stroke-width="1.1"/>
<rect x="1049.6" y="419.8" width="45.6" height="3.8" rx="1.6" stroke-width="1.3" fill="#4a4a4a"/>
<rect x="1053" y="424.4" width="38.8" height="7.2" rx="1" stroke-width="1.4" fill="none"/>
<line x1="1064.5" y1="424.4" x2="1064.5" y2="431.6" stroke-width="1"/>
<line x1="1073.5" y1="424.4" x2="1073.5" y2="431.6" stroke-width="1"/>
<line x1="1081.5" y1="424.4" x2="1081.5" y2="431.6" stroke-width="1"/>
<rect x="1065.6" y="431.8" width="14.8" height="9.4" fill="url(#hatch)" stroke="#0a0a0a" stroke-width="1"/>
<line x1="1061.6" y1="441.5" x2="1085.6" y2="441.5" stroke-width="1" stroke-dasharray="16 2 2 2"/>
<path d="M1073,441.6 L1073,504 Q1073,514.5 1083.5,514.5 L1164,514.5 Q1174.7,514.5 1174.7,504 L1174.7,494.5" stroke-width="0.95" fill="none" stroke-dasharray="22 3 3 3"/>
<line x1="1004" y1="385.5" x2="1044.4" y2="385.5" stroke-width="1"/>
<line x1="1044.4" y1="385.5" x2="1100.8" y2="385.5" stroke-width="0.9"/>
<polygon points="1043.9,385.6 1032.4,388.7 1032.4,382.5" fill="#0a0a0a" stroke="none"/>
<polygon points="1101.6,385.6 1113.1,382.5 1113.1,388.7" fill="#0a0a0a" stroke="none"/>
<text fill="#15151c" stroke="none" x="1000.7" y="380.1" font-size="24.3" textLength="31.6" lengthAdjust="spacingAndGlyphs">ø50</text>
<line x1="1005" y1="412.5" x2="1057" y2="412.5" stroke-width="1"/>
<polygon points="1056.8,412.8 1045.3,415.9 1045.3,409.7" fill="#0a0a0a" stroke="none"/>
<polygon points="1088.8,412.8 1100.3,409.7 1100.3,415.9" fill="#0a0a0a" stroke="none"/>
<text fill="#15151c" stroke="none" x="1003.2" y="407.3" font-size="24.3" textLength="31.6" lengthAdjust="spacingAndGlyphs">ø34</text>
<line x1="1102" y1="377.5" x2="1128.4" y2="377.5" stroke-width="1"/>
<line x1="1100.6" y1="418.5" x2="1128.4" y2="418.5" stroke-width="1"/>
<line x1="1126.5" y1="377.4" x2="1126.5" y2="494.5" stroke-width="1"/>
<polygon points="1126.5,377.6 1129.6,389.1 1123.4,389.1" fill="#0a0a0a" stroke="none"/>
<polygon points="1126.5,418.2 1123.4,406.7 1129.6,406.7" fill="#0a0a0a" stroke="none"/>
<text fill="#15151c" stroke="none" transform="translate(1122.6,493.8) rotate(-90)" x="-0.8" y="0" font-size="24.3" textLength="66" lengthAdjust="spacingAndGlyphs">Max. 38</text>
<text fill="#15151c" stroke="none" x="1148.6" y="420" font-size="24.3" textLength="56" lengthAdjust="spacingAndGlyphs">M15x1</text>
<line x1="1152.2" y1="429.5" x2="1197.4" y2="429.5" stroke-width="1"/>
<polygon points="1166.2,429.6 1154.7,432.7 1154.7,426.5" fill="#0a0a0a" stroke="none"/>
<polygon points="1183.4,429.6 1194.9,426.5 1194.9,432.7" fill="#0a0a0a" stroke="none"/>
<line x1="1166.5" y1="427.6" x2="1166.5" y2="437.4" stroke-width="1"/>
<line x1="1183.5" y1="427.6" x2="1183.5" y2="437.4" stroke-width="1"/>
<rect x="1167.4" y="441.1" width="15.5" height="8.9" rx="2" stroke-width="1.8" fill="none"/>
<rect x="1169" y="450.8" width="12.4" height="10.4" stroke-width="1.5" fill="none"/>
<line x1="1169" y1="454.5" x2="1181.4" y2="454.5" stroke-width="1"/>
<line x1="1169" y1="457.5" x2="1181.4" y2="457.5" stroke-width="1"/>
<rect x="1167.4" y="462.1" width="15.5" height="12.9" rx="1" stroke-width="1.8" fill="none"/>
<rect x="1168.6" y="476" width="13" height="18" fill="url(#hatch)" stroke="#0a0a0a" stroke-width="1"/>
<line x1="1162.8" y1="494.5" x2="1186.8" y2="494.5" stroke-width="1" stroke-dasharray="18 2 2 2"/>
<line x1="1174.5" y1="444" x2="1174.5" y2="470" stroke-width="0.9" stroke-dasharray="8 2.5 2 2.5"/>
</g></svg>
</body>
</html>
